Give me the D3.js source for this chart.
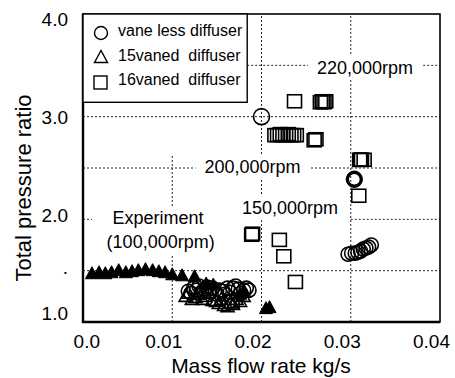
<!DOCTYPE html>
<html>
<head>
<meta charset="utf-8">
<script src="https://cdn.jsdelivr.net/npm/d3@7"></script>
<style>
body { margin: 0; background: #fff; }
text { font-family: "Liberation Sans", Arial, sans-serif; fill: #000; }
</style>
</head>
<body>
<div id="chart"></div>
<script>
// ticks
var xTicks = [0, 0.01, 0.02, 0.03, 0.04],
	yTicks = [1, 1.5, 2, 3, 4];

// vane less diffuser (open circles)
var vaneless = [[0.0200, 3.00],
		[0.0303, 2.39], [0.0304, 2.40], [0.0305, 2.39], [0.0304, 2.38],
		[0.0297, 1.66], [0.0301, 1.67], [0.0305, 1.67], [0.0308, 1.68], [0.0311, 1.69],
		[0.0314, 1.71], [0.0317, 1.72], [0.0320, 1.73], [0.0323, 1.75],
		[0.0118, 1.30], [0.0124, 1.33], [0.0130, 1.35], [0.0136, 1.32], [0.0142, 1.30],
		[0.0150, 1.27], [0.0156, 1.30], [0.0162, 1.33], [0.0168, 1.33], [0.0174, 1.32],
		[0.0180, 1.31], [0.0186, 1.31],
		[0.0121, 1.28], [0.0127, 1.31], [0.0133, 1.29], [0.0139, 1.34], [0.0145, 1.33],
		[0.0153, 1.31], [0.0159, 1.27], [0.0165, 1.29], [0.0171, 1.35], [0.0177, 1.28],
		[0.0183, 1.33]];

// 15vaned diffuser (open triangles)
var vaned15 = [[0.0115, 1.25], [0.0122, 1.22], [0.0130, 1.27], [0.0137, 1.25], [0.0145, 1.21],
		[0.0152, 1.18], [0.0158, 1.16], [0.0165, 1.19], [0.0172, 1.22], [0.0180, 1.25],
		[0.0118, 1.28], [0.0126, 1.24], [0.0134, 1.22], [0.0141, 1.28], [0.0149, 1.20],
		[0.0155, 1.22], [0.0162, 1.15], [0.0168, 1.17], [0.0176, 1.20]];

// experiment 100,000rpm (filled triangles)
var experiment = [[0.0010, 1.47], [0.0018, 1.48], [0.0025, 1.47], [0.0032, 1.48], [0.0040, 1.50],
		[0.0048, 1.48], [0.0055, 1.49], [0.0062, 1.50], [0.0070, 1.51], [0.0078, 1.50],
		[0.0085, 1.49], [0.0092, 1.48], [0.0100, 1.46], [0.0111, 1.45], [0.0125, 1.44],
		[0.0138, 1.37], [0.0146, 1.36], [0.0176, 1.27], [0.0181, 1.29],
		[0.0205, 1.13], [0.0209, 1.14]];

// 16vaned diffuser (open squares)
var vaned16 = [[0.0237, 3.15],
		[0.0266, 3.14], [0.0268, 3.15], [0.0270, 3.14], [0.0272, 3.15],
		[0.0215, 2.82], [0.0218, 2.82], [0.0221, 2.83], [0.0224, 2.82], [0.0227, 2.82],
		[0.0230, 2.83], [0.0233, 2.82], [0.0236, 2.82], [0.0239, 2.82],
		[0.0259, 2.77], [0.0261, 2.78],
		[0.0310, 2.58], [0.0311, 2.58], [0.0312, 2.58], [0.0315, 2.58],
		[0.0309, 2.23],
		[0.0189, 1.85], [0.0190, 1.86],
		[0.0220, 1.80], [0.0225, 1.64], [0.0238, 1.39], [0.0167, 1.20]];

// dotted grid pieces: [value, from, to]
var hGrid = [[3.5, 0.0184, 0.04], [3.0, 0, 0.04], [2.5, 0, 0.04],
		[2.0, 0, 0.001], [2.0, 0.03, 0.04], [1.5, 0, 0.04]];
var vGrid = [[0.01, 1.0, 2.63], [0.02, 1.0, 4.0], [0.03, 1.0, 4.0]];

var legendItems = ["vane less diffuser", "15vaned  diffuser", "16vaned  diffuser"];
var speedLabels = [["220,000rpm", 0.0316, 3.42], ["200,000rpm", 0.0190, 2.45],
		["150,000rpm", 0.0232, 2.05]];

var w = 455, h = 378;

var svg = d3.select("#chart").append("svg")
	.attr("width", w)
	.attr("height", h);

var x = d3.scaleLinear().domain([0, 0.04]).range([83, 440]);
var y = d3.scaleLinear().domain([1, 4]).range([322, 14]);

// grid
svg.selectAll(".hg").data(hGrid).enter().append("line")
	.attr("x1", function(d) { return x(d[1]); })
	.attr("x2", function(d) { return x(d[2]); })
	.attr("y1", function(d) { return y(d[0]); })
	.attr("y2", function(d) { return y(d[0]); })
	.style("stroke", "#222").style("stroke-width", 1).style("stroke-dasharray", "2,2");

svg.selectAll(".vg").data(vGrid).enter().append("line")
	.attr("x1", function(d) { return x(d[0]); })
	.attr("x2", function(d) { return x(d[0]); })
	.attr("y1", function(d) { return y(d[1]); })
	.attr("y2", function(d) { return y(d[2]); })
	.style("stroke", "#222").style("stroke-width", 1).style("stroke-dasharray", "2,2");

// labels inside plot, white boxes hide the grid behind them
function boxedText(g, pad) {
	var b = g.node().getBBox();
	g.insert("rect", ":first-child")
		.attr("x", b.x - pad).attr("y", b.y - 2)
		.attr("width", b.width + pad * 2).attr("height", b.height + 4)
		.style("fill", "#fff");
}

speedLabels.forEach(function(s) {
	var g = svg.append("g");
	g.append("text")
		.attr("x", x(s[1])).attr("y", y(s[2]))
		.attr("text-anchor", "middle")
		.style("font-size", "18px")
		.text(s[0]);
	boxedText(g, 9);
});

var ex = svg.append("g");
ex.append("text").attr("x", x(0.0084)).attr("y", y(1.95))
	.attr("text-anchor", "middle").style("font-size", "18px").text("Experiment");
ex.append("text").attr("x", x(0.0087)).attr("y", y(1.72))
	.attr("text-anchor", "middle").style("font-size", "18px").text("(100,000rpm)");
boxedText(ex, 6);

// markers
svg.selectAll(".vl").data(vaneless).enter().append("circle")
	.attr("cx", function(d) { return x(d[0]); })
	.attr("cy", function(d) { return y(d[1]); })
	.attr("r", function(d, i) { return i == 0 ? 8 : 7; })
	.style("fill", "none").style("stroke", "#000").style("stroke-width", 1.6);

function tri(d) {
	var cx = x(d[0]), cy = y(d[1]);
	return "M" + (cx - 6.5) + "," + (cy + 5) + "L" + cx + "," + (cy - 7) + "L" + (cx + 6.5) + "," + (cy + 5) + "Z";
}

svg.selectAll(".v15").data(vaned15).enter().append("path")
	.attr("d", tri)
	.style("fill", "none").style("stroke", "#000").style("stroke-width", 1.6);

svg.selectAll(".exp").data(experiment).enter().append("path")
	.attr("d", tri)
	.style("fill", "#000").style("stroke", "#000").style("stroke-width", 1);

svg.selectAll(".v16").data(vaned16).enter().append("rect")
	.attr("x", function(d) { return x(d[0]) - 7; })
	.attr("y", function(d) { return y(d[1]) - 6.5; })
	.attr("width", 14).attr("height", 13)
	.style("fill", "none").style("stroke", "#000").style("stroke-width", 1.6);

// frame
svg.append("rect")
	.attr("x", x(0)).attr("y", y(4))
	.attr("width", x(0.04) - x(0)).attr("height", y(1) - y(4))
	.style("fill", "none").style("stroke", "#000").style("stroke-width", 1.6);
svg.append("line").attr("x1", x(0)).attr("x2", x(0)).attr("y1", y(4)).attr("y2", y(1) + 1)
	.style("stroke", "#000").style("stroke-width", 2.4);
svg.append("line").attr("x1", x(0) - 1).attr("x2", x(0.04)).attr("y1", y(1)).attr("y2", y(1))
	.style("stroke", "#000").style("stroke-width", 2.4);

// legend
var lg = svg.append("g");
lg.append("rect")
	.attr("x", x(0)).attr("y", y(4))
	.attr("width", x(0.0184) - x(0)).attr("height", y(3.14) - y(4))
	.style("fill", "#fff").style("stroke", "#000").style("stroke-width", 1.4);
legendItems.forEach(function(t, i) {
	var ly = 32 + i * 24.5, lx = 101;
	if (i == 0)
		lg.append("circle").attr("cx", lx).attr("cy", ly + 1).attr("r", 6.5);
	else if (i == 1)
		lg.append("path").attr("d", "M" + (lx - 6.5) + "," + (ly + 6) + "L" + lx + "," + (ly - 6) + "L" + (lx + 6.5) + "," + (ly + 6) + "Z");
	else
		lg.append("rect").attr("x", lx - 7).attr("y", ly - 5).attr("width", 13).attr("height", 13);
	lg.append("text")
		.attr("x", 118).attr("y", ly + 4)
		.style("font-size", "16px")
		.style("white-space", "pre")
		.text(t);
});
lg.selectAll("circle, path, rect:not(:first-child)")
	.style("fill", "none").style("stroke", "#000").style("stroke-width", 1.4);

// tick labels
svg.selectAll(".xt").data(xTicks).enter().append("text")
	.attr("x", function(d) { return x(d) + (d == 0 ? 17 : 10); })
	.attr("y", 348)
	.attr("text-anchor", "end")
	.style("font-size", "19px")
	.text(function(d) { return d == 0 ? "0.0" : d3.format(".2f")(d); });

svg.selectAll(".yt").data(yTicks).enter().append("text")
	.attr("x", 68)
	.attr("y", function(d) { return d == 1.5 ? y(d) + 3 : y(d) + 7 + (d - 3) * 4.5; })
	.attr("text-anchor", "end")
	.style("font-size", "19px")
	.text(function(d) { return d == 1.5 ? "." : d3.format(".1f")(d); });

// axis titles
svg.append("text")
	.attr("x", 261).attr("y", 373)
	.attr("text-anchor", "middle")
	.style("font-size", "21px")
	.text("Mass flow rate kg/s");

svg.append("text")
	.attr("transform", "translate(31,188) rotate(-90)")
	.attr("text-anchor", "middle")
	.style("font-size", "22px")
	.text("Total pressure ratio");
</script>
</body>
</html>
